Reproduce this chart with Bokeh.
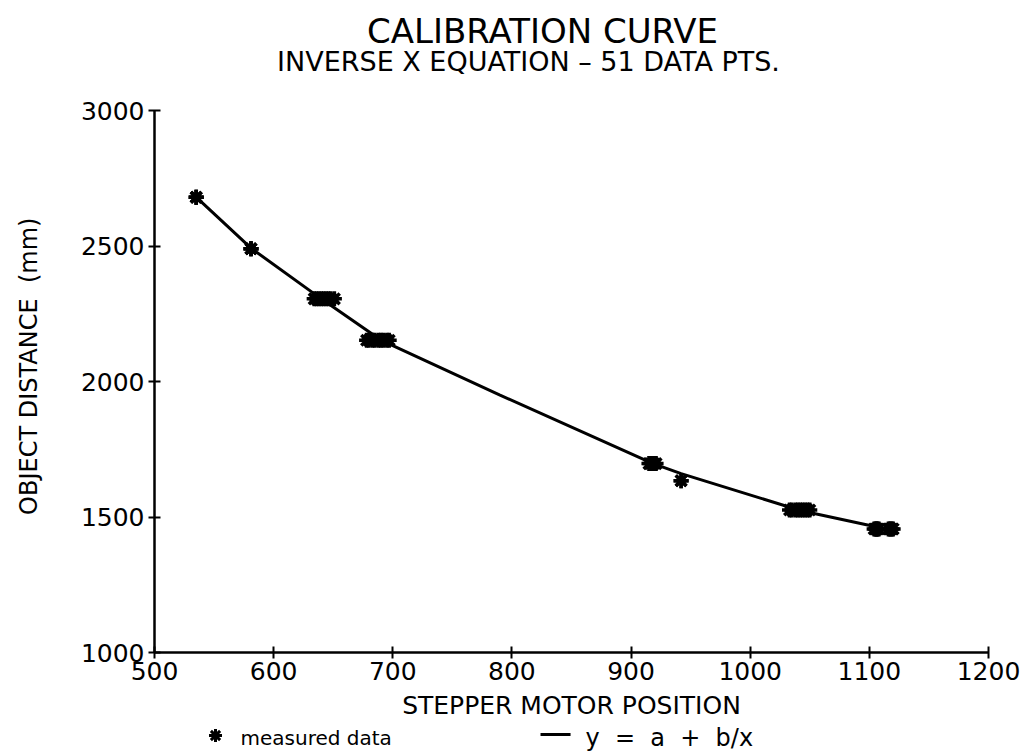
from bokeh.plotting import figure
from bokeh.models import FixedTicker, Range1d
from bokeh.layouts import column
from bokeh.core.properties import value
from bokeh.embed import file_html
from bokeh.resources import INLINE

# ---- data ----
title_text = "CALIBRATION CURVE"
subtitle_text = "INVERSE X EQUATION \u2013 51 DATA PTS."
x_title = "STEPPER MOTOR POSITION"
y_title = "\u00a0\u00a0\u00a0\u00a0OBJECT DISTANCE\u00a0\u00a0(mm)"
legend_meas = "measured data"
legend_fit = "y\u00a0\u00a0=\u00a0\u00a0a\u00a0\u00a0+\u00a0\u00a0b/x"

x_ticks = [500, 600, 700, 800, 900, 1000, 1100, 1200]
y_ticks = [1000, 1500, 2000, 2500, 3000]

# 51 measured points (many overlap)
meas_x = [535, 535, 535,
          581, 581, 581,
          634, 636, 638, 640, 642, 644, 646, 648, 651,
          678, 680, 683, 685, 688, 690, 692, 695, 697,
          915, 916, 918, 919, 921,
          942, 942,
          1033, 1035, 1038, 1040, 1042, 1044, 1046, 1048, 1050,
          1104, 1105, 1106, 1106, 1107, 1108, 1116, 1117, 1118, 1119, 1120]
meas_y = [2680, 2680, 2680,
          2490, 2490, 2490,
          2305, 2305, 2305, 2305, 2305, 2305, 2305, 2305, 2305,
          2152, 2152, 2152, 2152, 2152, 2152, 2152, 2152, 2152,
          1697, 1697, 1697, 1697, 1697,
          1634, 1634,
          1526, 1526, 1526, 1526, 1526, 1526, 1526, 1526, 1526,
          1456, 1456, 1456, 1456, 1456, 1456, 1456, 1456, 1456, 1456, 1456]

# fitted curve
fit_x = [535, 581, 640, 690, 790, 918, 942, 1042, 1118]
fit_y = [2680, 2492, 2305, 2153, 1950, 1698, 1660, 1524, 1452]

FONT = "DejaVu Sans"
W = 1024
X0, X1 = 500, 1200
H_TOP, H_MAIN, H_BOT = 90, 600, 64
B_LEFT, F_W, B_TOP, F_H, B_BOT = 154, 834, 20, 542, 38


def bare(height):
    # text-only strip; its frame is aligned with the main frame by the column layout
    f = figure(width=W, height=height, output_backend="svg", toolbar_location=None,
               x_range=Range1d(X0, X1), y_range=Range1d(height, 0),
               x_axis_type=None, y_axis_type=None,
               min_border_left=0, min_border_right=0,
               min_border_top=0, min_border_bottom=0)
    f.outline_line_color = None
    f.grid.visible = False
    f.background_fill_color = "white"
    f.border_fill_color = "white"
    return f


# ---- title block ----
top = bare(H_TOP)
top.text(x=[825.7], y=[30], text=[title_text], text_font=value(FONT), text_font_size="34px",
         text_align="center", text_baseline="middle", text_color="black")
top.text(x=[813.9], y=[61], text=[subtitle_text], text_font=value(FONT), text_font_size="27px",
         text_align="center", text_baseline="middle", text_color="black")

# ---- main chart ----
p = figure(width=W, height=H_MAIN, output_backend="svg", toolbar_location=None,
           x_range=Range1d(X0, X1), y_range=Range1d(1000, 3000),
           min_border_left=B_LEFT, min_border_right=W - B_LEFT - F_W,
           min_border_top=B_TOP, min_border_bottom=B_BOT)
p.outline_line_color = None
p.grid.visible = False
p.background_fill_color = "white"
p.border_fill_color = "white"

for ax in (p.xaxis[0], p.yaxis[0]):
    ax.axis_line_width = 2.5
    ax.axis_line_color = "black"
    ax.major_tick_line_width = 2
    ax.major_tick_line_color = "black"
    ax.major_tick_in = 6
    ax.major_tick_out = 6
    ax.minor_tick_line_color = None
    ax.major_label_text_font = FONT
    ax.major_label_text_font_size = "25px"
    ax.major_label_text_color = "black"
    ax.axis_label_text_font = FONT
    ax.axis_label_text_font_size = "24px"
    ax.axis_label_text_font_style = "normal"
    ax.axis_label_text_color = "black"

p.xaxis[0].ticker = FixedTicker(ticks=x_ticks)
p.yaxis[0].ticker = FixedTicker(ticks=y_ticks)
p.xaxis[0].major_label_standoff = 3
p.yaxis[0].major_label_standoff = 4
p.yaxis[0].axis_label = y_title
p.yaxis[0].axis_label_standoff = 35

p.line(fit_x, fit_y, line_color="black", line_width=3)
p.scatter(meas_x, meas_y, marker="asterisk", size=15, line_color="black", line_width=3.5)

# ---- x-axis title and legend block ----
bot = bare(H_BOT)
bot.text(x=[(X0 + X1) / 2], y=[15], text=[x_title], text_font=value(FONT), text_font_size="25px",
         text_align="center", text_baseline="middle", text_color="black")
bot.scatter(x=[551.2], y=[45], marker="asterisk", size=13, line_color="black", line_width=3)
bot.text(x=[572.2], y=[47], text=[legend_meas], text_font=value(FONT), text_font_size="20px",
         text_align="left", text_baseline="middle", text_color="black")
bot.segment(x0=[824.0], y0=[44], x1=[849.2], y1=[44], line_color="black", line_width=3)
bot.text(x=[861.7], y=[47], text=[legend_fit], text_font=value(FONT), text_font_size="24px",
         text_align="left", text_baseline="middle", text_color="black")

layout = column(top, p, bot, spacing=0)
open("out.html", "w").write(file_html(layout, INLINE))
